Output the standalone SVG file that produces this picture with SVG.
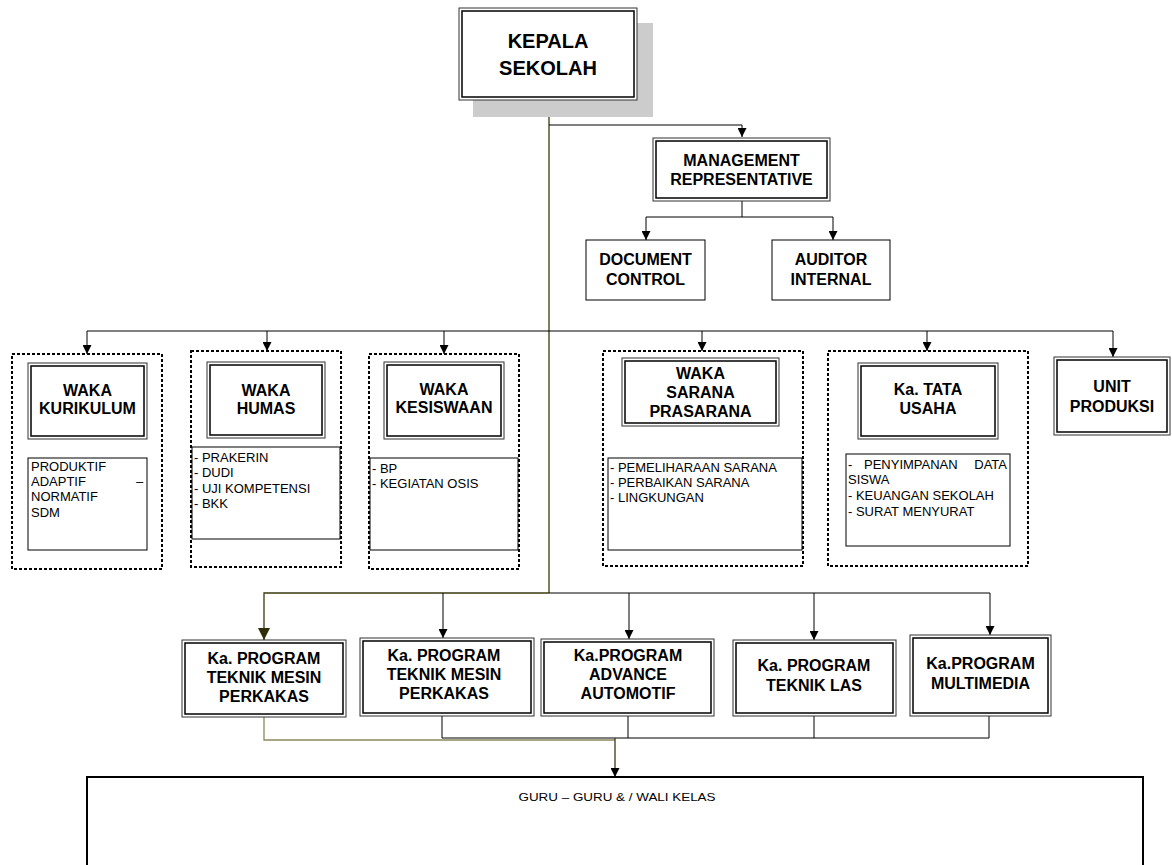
<svg xmlns="http://www.w3.org/2000/svg" width="1172" height="865" viewBox="0 0 1172 865">
<style>
.o{fill:#fff;stroke:#333;stroke-width:1}
.i{fill:none;stroke:#000;stroke-width:1.5}
.d{fill:none;stroke:#000;stroke-width:2;stroke-dasharray:3 2}
.tb{fill:#fff;stroke:#000;stroke-width:1}
.h{font-family:"Liberation Sans",Arial,sans-serif;font-weight:bold;font-size:16px;text-anchor:middle;fill:#000}
.l{font-family:"Liberation Sans",Arial,sans-serif;font-size:13px;fill:#000}
.c{fill:none;stroke:#000;stroke-width:1}
.ol{fill:none;stroke:#3a3a0c;stroke-width:1.3}
</style>
<defs>
<marker id="a" viewBox="0 0 10 10" refX="10" refY="5" markerWidth="9" markerHeight="9" markerUnits="userSpaceOnUse" orient="auto"><path d="M0,0L10,5L0,10z" fill="#000"/></marker>
<marker id="ab" viewBox="0 0 10 10" refX="10" refY="5" markerWidth="14" markerHeight="12" markerUnits="userSpaceOnUse" orient="auto"><path d="M0,0L10,5L0,10z" fill="#2e2e08"/></marker>
</defs>

<g id="connectors">
<path class="ol" d="M549,100V593"/>
<path class="c" d="M549,125H742V137" marker-end="url(#a)"/>
<path class="c" d="M742,201V217"/>
<path class="c" d="M646,217H833"/>
<path class="c" d="M646,217V240" marker-end="url(#a)"/>
<path class="c" d="M833,217V240" marker-end="url(#a)"/>
<path class="c" d="M87,331H1113"/>
<path class="c" d="M87,331V354" marker-end="url(#a)"/>
<path class="c" stroke="#555" d="M267,331V351" marker-end="url(#a)"/>
<path class="c" d="M444,331V354" marker-end="url(#a)"/>
<path class="c" stroke="#555" d="M702,331V351" marker-end="url(#a)"/>
<path class="c" d="M927,331V351" marker-end="url(#a)"/>
<path class="c" d="M1113,331V357" marker-end="url(#a)"/>
<path class="ol" d="M549,593H264V640" marker-end="url(#ab)"/>
<path class="c" d="M549,593H990"/>
<path class="c" d="M443,593V638" marker-end="url(#a)"/>
<path class="c" d="M629,593V639" marker-end="url(#a)"/>
<path class="c" d="M814,593V640" marker-end="url(#a)"/>
<path class="c" stroke="#333" d="M990,593V635" marker-end="url(#a)"/>
<path fill="none" stroke="#8a8a60" stroke-width="1.3" d="M264,717V740H615"/>
<path class="c" d="M442,716V738H814"/>
<path class="c" d="M628,716V738"/>
<path class="c" d="M814,716V738"/>
<path class="c" stroke="#555" d="M814,738H989V716"/>
<path class="ol" d="M615,738V777" marker-end="url(#a)"/>
</g>

<g id="kepala-sekolah">
<rect x="473" y="23" width="180" height="94" fill="#cccccc"/>
<rect class="o" x="459" y="8" width="178" height="92"/>
<rect class="i" x="462" y="11" width="172" height="86"/>
<text class="h" style="font-size:20px" x="548" y="48">KEPALA</text>
<text class="h" style="font-size:20px" x="548" y="75">SEKOLAH</text>
</g>

<g id="management-representative">
<rect class="o" x="653" y="138" width="177" height="63"/>
<rect class="i" x="656" y="141" width="171" height="57"/>
<text class="h" x="741.5" y="166">MANAGEMENT</text>
<text class="h" x="741.5" y="185">REPRESENTATIVE</text>
</g>

<g id="document-control">
<rect class="tb" x="586" y="240" width="119" height="60"/>
<text class="h" x="645.5" y="265">DOCUMENT</text>
<text class="h" x="645.5" y="285">CONTROL</text>
</g>

<g id="auditor-internal">
<rect class="tb" x="772" y="240" width="118" height="60"/>
<text class="h" x="831" y="265">AUDITOR</text>
<text class="h" x="831" y="285">INTERNAL</text>
</g>

<g id="waka-kurikulum">
<rect class="d" x="12" y="354" width="150" height="215"/>
<rect class="o" x="28" y="363" width="119" height="76"/>
<rect class="i" x="31" y="366" width="113" height="70"/>
<text class="h" x="87.5" y="396">WAKA</text>
<text class="h" x="87.5" y="414">KURIKULUM</text>
<rect class="tb" x="28" y="458" width="119" height="92"/>
<text class="l" x="31" y="471">PRODUKTIF</text>
<text class="l" x="31" y="486">ADAPTIF</text>
<text class="l" x="136" y="486">–</text>
<text class="l" x="31" y="501">NORMATIF</text>
<text class="l" x="31" y="517">SDM</text>
</g>

<g id="waka-humas">
<rect class="d" x="191" y="351" width="150" height="216"/>
<rect class="o" x="207" y="362" width="118" height="76"/>
<rect class="i" x="210" y="365" width="112" height="70"/>
<text class="h" x="266" y="396">WAKA</text>
<text class="h" x="266" y="414">HUMAS</text>
<rect class="tb" x="192" y="447" width="148" height="92"/>
<text class="l" x="194" y="462">- PRAKERIN</text>
<text class="l" x="194" y="477">- DUDI</text>
<text class="l" x="194" y="493">- UJI KOMPETENSI</text>
<text class="l" x="194" y="508">- BKK</text>
</g>

<g id="waka-kesiswaan">
<rect class="d" x="369" y="354" width="150" height="215"/>
<rect class="o" x="384" y="362" width="120" height="77"/>
<rect class="i" x="387" y="365" width="114" height="71"/>
<text class="h" x="444" y="395">WAKA</text>
<text class="h" x="444" y="413">KESISWAAN</text>
<rect class="tb" x="370" y="458" width="148" height="92"/>
<text class="l" x="372" y="473">- BP</text>
<text class="l" x="372" y="488">- KEGIATAN OSIS</text>
</g>

<g id="waka-sarana-prasarana">
<rect class="d" x="603" y="351" width="200" height="215"/>
<rect class="o" x="622" y="358" width="157" height="68"/>
<rect class="i" x="625" y="361" width="151" height="62"/>
<text class="h" x="700.5" y="379">WAKA</text>
<text class="h" x="700.5" y="398">SARANA</text>
<text class="h" x="700.5" y="417">PRASARANA</text>
<rect class="tb" x="608" y="458" width="194" height="92"/>
<text class="l" x="610" y="472">- PEMELIHARAAN SARANA</text>
<text class="l" x="610" y="487">- PERBAIKAN SARANA</text>
<text class="l" x="610" y="502">- LINGKUNGAN</text>
</g>

<g id="ka-tata-usaha">
<rect class="d" x="828" y="351" width="200" height="215"/>
<rect class="o" x="858" y="363" width="140" height="76"/>
<rect class="i" x="861" y="366" width="134" height="70"/>
<text class="h" x="928" y="395">Ka. TATA</text>
<text class="h" x="928" y="414">USAHA</text>
<rect class="tb" x="846" y="454" width="164" height="92"/>
<text class="l" x="848" y="469">-</text>
<text class="l" x="864" y="469">PENYIMPANAN</text>
<text class="l" x="1007" y="469" text-anchor="end">DATA</text>
<text class="l" x="848" y="484">SISWA</text>
<text class="l" x="848" y="500">- KEUANGAN SEKOLAH</text>
<text class="l" x="848" y="516">- SURAT MENYURAT</text>
</g>

<g id="unit-produksi">
<rect class="o" x="1054" y="357" width="116" height="78"/>
<rect class="i" x="1057" y="360" width="110" height="72"/>
<text class="h" x="1112" y="392">UNIT</text>
<text class="h" x="1112" y="412">PRODUKSI</text>
</g>

<g id="program-1">
<rect class="o" x="182" y="640" width="164" height="77"/>
<rect class="i" x="185" y="643" width="158" height="71"/>
<text class="h" x="264" y="664">Ka. PROGRAM</text>
<text class="h" x="264" y="683">TEKNIK MESIN</text>
<text class="h" x="264" y="702">PERKAKAS</text>
</g>

<g id="program-2">
<rect class="o" x="360" y="638" width="174" height="78"/>
<rect class="i" x="363" y="641" width="168" height="72"/>
<text class="h" x="444" y="661">Ka. PROGRAM</text>
<text class="h" x="444" y="680">TEKNIK MESIN</text>
<text class="h" x="444" y="699">PERKAKAS</text>
</g>

<g id="program-3">
<rect class="o" x="541" y="639" width="173" height="77"/>
<rect class="i" x="544" y="642" width="167" height="71"/>
<text class="h" x="628" y="661">Ka.PROGRAM</text>
<text class="h" x="628" y="680">ADVANCE</text>
<text class="h" x="628" y="699">AUTOMOTIF</text>
</g>

<g id="program-4">
<rect class="o" x="733" y="640" width="163" height="76"/>
<rect class="i" x="736" y="643" width="157" height="70"/>
<text class="h" x="814" y="671">Ka. PROGRAM</text>
<text class="h" x="814" y="691">TEKNIK LAS</text>
</g>

<g id="program-5">
<rect class="o" x="910" y="635" width="141" height="81"/>
<rect class="i" x="913" y="638" width="135" height="75"/>
<text class="h" x="980.5" y="669">Ka.PROGRAM</text>
<text class="h" x="980.5" y="689">MULTIMEDIA</text>
</g>

<g id="guru">
<rect x="87" y="777" width="1056" height="100" fill="#fff" stroke="#000" stroke-width="2"/>
<text class="l" style="font-size:11px" x="617" y="801" text-anchor="middle" textLength="197" lengthAdjust="spacingAndGlyphs">GURU – GURU &amp; / WALI KELAS</text>
</g>
</svg>
